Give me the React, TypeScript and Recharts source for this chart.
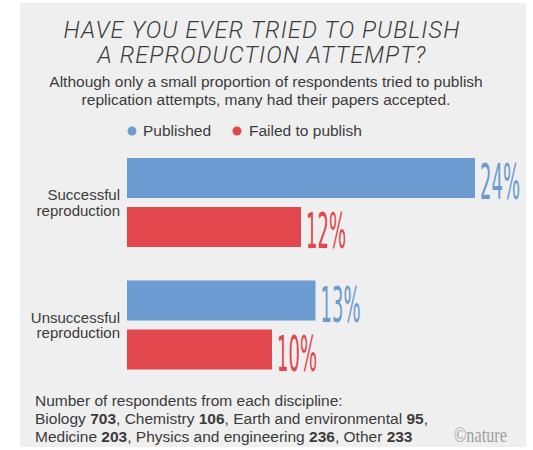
import React from "react";
import { BarChart, Bar, XAxis, YAxis, LabelList } from "recharts";

// Survey answers: share of respondents who tried to publish a reproduction attempt
const categories = ["Successful reproduction", "Unsuccessful reproduction"];
const published = [24, 13];
const failedToPublish = [12, 10];
const seriesNames = ["Published", "Failed to publish"];

const titleLines = ["HAVE YOU EVER TRIED TO PUBLISH", "A REPRODUCTION ATTEMPT?"];
const subtitleLines = [
  "Although only a small proportion of respondents tried to publish",
  "replication attempts, many had their papers accepted.",
];
const respondentsHeading = "Number of respondents from each discipline:";
const disciplines = [
  "Biology",
  "Chemistry",
  "Earth and environmental",
  "Medicine",
  "Physics and engineering",
  "Other",
];
const respondentCounts = [703, 106, 95, 203, 236, 233];
const credit = "\u00A9nature";

const BLUE = "#6b9bd0";
const RED = "#e1474c";
const TEXT = "#3b3b3b";
const SANS = "'Liberation Sans', Arial, Helvetica, sans-serif";
const CONDENSED = "'DejaVu Sans Condensed', 'DejaVu Sans', sans-serif";

const data = categories.map((category, i) => ({
  category,
  published: published[i],
  failed: failedToPublish[i],
}));

const CategoryTick = (props: any) => {
  const { x, y, payload } = props;
  const [first, ...rest] = String(payload.value).split(" ");
  return (
    <text x={x} y={y} textAnchor="end" fill={TEXT} fontSize={15} fontFamily={SANS}>
      <tspan x={x} dy={-2}>
        {first}
      </tspan>
      <tspan x={x} dy={15.5}>
        {rest.join(" ")}
      </tspan>
    </text>
  );
};

// Tall, narrow percentage figures at the end of each bar
const makeValueLabel = (color: string) => (props: any) => {
  const { x, y, width, height, value } = props;
  const tx = Number(x) + Number(width) + 5;
  const ty = Number(y) + Number(height) + 1;
  return (
    <text
      transform={`translate(${tx},${ty}) scale(0.4,1)`}
      fill={color}
      fontSize={50}
      fontFamily={CONDENSED}
    >
      {`${value}%`}
    </text>
  );
};

const footerRows = [
  [0, 1, 2],
  [3, 4, 5],
];

export default function App() {
  return (
    <div
      style={{
        position: "absolute",
        left: 0,
        top: 0,
        width: 533,
        height: 450,
        background: "#ffffff",
        overflow: "hidden",
      }}
    >
      <div
        style={{
          position: "absolute",
          left: 20,
          top: 3,
          width: 506,
          height: 444,
          background: "#efefef",
        }}
      />
      <div style={{ position: "absolute", left: 0, top: 0 }}>
        <BarChart
          width={533}
          height={450}
          data={data}
          layout="vertical"
          margin={{ top: 141, right: 14.5, bottom: 64, left: 0 }}
          barSize={40}
          barGap={9}
        >
          <XAxis type="number" domain={[0, 27]} hide />
          <YAxis
            type="category"
            dataKey="category"
            width={127}
            axisLine={false}
            tickLine={false}
            tickSize={0}
            tickMargin={7}
            tick={<CategoryTick />}
          />
          <Bar dataKey="published" name={seriesNames[0]} fill={BLUE} isAnimationActive={false}>
            <LabelList dataKey="published" content={makeValueLabel(BLUE)} />
          </Bar>
          <Bar dataKey="failed" name={seriesNames[1]} fill={RED} isAnimationActive={false}>
            <LabelList dataKey="failed" content={makeValueLabel(RED)} />
          </Bar>
        </BarChart>
      </div>
      <svg
        width={533}
        height={450}
        style={{ position: "absolute", left: 0, top: 0, pointerEvents: "none" }}
      >
        {titleLines.map((line, i) => (
          <text
            key={line}
            x={262}
            y={38 + i * 25}
            textAnchor="middle"
            fill={TEXT}
            fontSize={23.5}
            fontStyle="italic"
            fontWeight={300}
            letterSpacing={1.1}
            fontFamily="Roboto, 'Open Sans', sans-serif"
          >
            {line}
          </text>
        ))}
        {subtitleLines.map((line, i) => (
          <text
            key={line}
            x={266}
            y={87 + i * 18}
            textAnchor="middle"
            fill={TEXT}
            fontSize={15.5}
            fontFamily={SANS}
          >
            {line}
          </text>
        ))}
        {/* legend */}
        <circle cx={132} cy={131} r={4.5} fill={BLUE} />
        <text x={143} y={136} fill={TEXT} fontSize={15.5} fontFamily={SANS}>
          {seriesNames[0]}
        </text>
        <circle cx={237} cy={131} r={4.5} fill={RED} />
        <text x={249} y={136} fill={TEXT} fontSize={15.5} fontFamily={SANS}>
          {seriesNames[1]}
        </text>
        {/* respondents footnote */}
        <text x={35} y={406} fill={TEXT} fontSize={15.5} fontFamily={SANS}>
          {respondentsHeading}
        </text>
        {footerRows.map((row, r) => (
          <text key={r} x={35} y={424 + r * 18} fill={TEXT} fontSize={15.5} fontFamily={SANS}>
            {row.map((idx, j) => (
              <React.Fragment key={idx}>
                <tspan>{`${disciplines[idx]} `}</tspan>
                <tspan fontWeight={700}>{respondentCounts[idx]}</tspan>
                <tspan>{j < row.length - 1 || r === 0 ? ", " : ""}</tspan>
              </React.Fragment>
            ))}
          </text>
        ))}
        <text
          x={454}
          y={442}
          fill="#a0a0a0"
          fontSize={21}
          fontFamily="'Liberation Serif', 'DejaVu Serif', serif"
          textLength={53}
          lengthAdjust="spacingAndGlyphs"
        >
          {credit}
        </text>
      </svg>
    </div>
  );
}
